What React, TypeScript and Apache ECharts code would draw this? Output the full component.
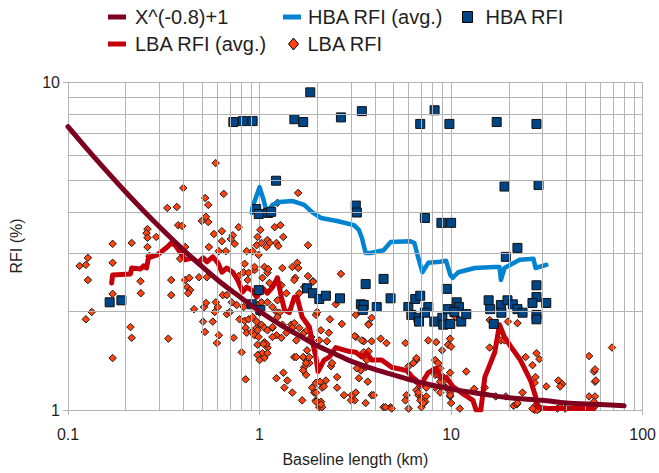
import React, { useEffect, useRef } from "react";
import * as echarts from "echarts";

const NAME_CURVE = "X^(-0.8)+1";
const NAME_HBA_AVG = "HBA RFI (avg.)";
const NAME_HBA = "HBA RFI";
const NAME_LBA_AVG = "LBA RFI (avg.)";
const NAME_LBA = "LBA RFI";

// Minor grid values (axis values)
const minorX = [0.2, 0.3, 0.4, 0.5, 0.6, 0.7, 0.8, 0.9, 2, 3, 4, 5, 6, 7, 8, 9, 20, 30, 40, 50, 60, 70, 80, 90];
const minorY = [2, 3, 4, 5, 6, 7, 8, 9];

// X^(-0.8)+1 curve
const curvePoints: number[][] = [
  [0.1, 7.31], [0.13, 6.11], [0.16, 5.33], [0.2, 4.62], [0.25, 4.03], [0.3, 3.62], [0.4, 3.08],
  [0.5, 2.74], [0.6, 2.5], [0.7, 2.33], [0.8, 2.2], [1, 2.0], [1.3, 1.81], [1.6, 1.69], [2, 1.57],
  [2.5, 1.48], [3, 1.41], [4, 1.33], [5, 1.28], [6, 1.24], [8, 1.19], [10, 1.16], [13, 1.13],
  [16, 1.11], [20, 1.09], [30, 1.07], [40, 1.05], [60, 1.04], [80, 1.03],
];

const hbaAvg: number[][] = [
  [0.91, 3.99], [0.92, 4.16], [1.0, 4.78], [1.05, 4.37], [1.09, 3.99], [1.17, 4.22], [1.27, 4.31],
  [1.48, 4.34], [1.71, 4.22], [1.88, 4.01], [2.09, 3.85], [2.54, 3.77], [3.11, 3.66], [3.3, 3.54],
  [3.42, 3.35], [3.58, 3.01], [3.8, 3.01], [4.44, 3.07], [4.83, 3.25], [6.13, 3.27], [6.43, 3.23],
  [6.75, 2.9], [7.08, 2.63], [7.6, 2.81], [8.77, 2.83], [9.42, 2.85], [9.9, 2.58], [10.2, 2.53],
  [10.9, 2.63], [13.3, 2.71], [16.9, 2.73], [17.9, 2.73], [18.2, 2.49], [19, 2.71], [22.8, 2.87],
  [26.9, 2.89], [27.6, 2.71], [31.4, 2.77],
];

const hbaRfi: number[][] = [
  [0.73, 7.55], [0.82, 7.6], [0.92, 7.6], [1.84, 9.3], [1.52, 7.7], [1.69, 7.55], [2.66, 7.8],
  [3.42, 8.15], [8.2, 8.2], [6.9, 7.45], [9.8, 7.45], [17.3, 7.55], [27.9, 7.45],
  [1.22, 5.0], [19, 4.8], [28.6, 4.85], [3.18, 4.2], [3.22, 4.0], [7.3, 3.85], [8.9, 3.72], [10, 3.72],
  [0.96, 4.1], [0.99, 3.96], [1.11, 3.99], [1.15, 4.02], [19.3, 2.93], [22.2, 3.12],
  [0.165, 2.13], [0.19, 2.16], [0.99, 2.32], [0.91, 2.1], [1.01, 2.02], [1.77, 2.35], [1.9, 2.27],
  [2.05, 2.18], [2.22, 2.23], [2.63, 2.19], [3.58, 2.42], [4.44, 2.51], [4.83, 2.19], [3.38, 2.1],
  [3.5, 2.09], [3.46, 2.02], [4.09, 2.06], [5.98, 2.06], [6.2, 1.95], [6.5, 2.18], [6.9, 2.23],
  [7.6, 2.06], [6.75, 1.91], [6.8, 1.86], [7.3, 1.98], [8.17, 1.86], [9.0, 1.91], [9.5, 2.34],
  [9.6, 2.03], [9.1, 1.82], [9.9, 1.83], [10.7, 2.13], [11, 2.06], [10.4, 1.99], [11.3, 1.86],
  [12, 1.96], [15.7, 2.16], [16, 2.03], [16.7, 1.83], [18.2, 2.09], [18.3, 1.98], [19.7, 2.16],
  [21, 2.1], [22.2, 2.03], [23.6, 1.98], [27.9, 2.4], [27.9, 2.21], [26.6, 2.12], [31.4, 2.12],
  [27.9, 1.95], [27.9, 1.89],
];

const lbaAvg: number[][] = [
  [0.169, 2.44], [0.171, 2.58], [0.212, 2.6], [0.215, 2.71], [0.239, 2.69], [0.248, 2.75], [0.257, 2.71],
  [0.263, 2.91], [0.292, 2.97], [0.33, 3.14], [0.346, 3.23], [0.363, 3.18], [0.394, 2.97], [0.409, 2.87],
  [0.444, 2.91], [0.477, 2.81], [0.507, 2.91], [0.531, 2.83], [0.57, 2.93], [0.606, 2.81], [0.636, 2.63],
  [0.675, 2.71], [0.725, 2.63], [0.769, 2.49], [0.817, 2.29], [0.857, 2.37], [0.91, 2.32], [0.965, 2.21],
  [1.04, 2.35], [1.1, 2.27], [1.17, 2.37], [1.24, 2.53], [1.3, 2.21], [1.35, 2.02], [1.43, 1.98],
  [1.52, 2.21], [1.57, 2.21], [1.67, 1.92], [1.82, 1.79], [1.88, 1.63], [1.97, 1.45], [2.02, 1.31],
  [2.17, 1.42], [2.31, 1.45], [2.5, 1.55], [2.93, 1.51], [3.18, 1.5], [3.42, 1.45], [3.63, 1.49],
  [3.85, 1.42], [4.34, 1.42], [4.89, 1.35], [5.85, 1.32], [6.51, 1.23], [6.91, 1.19], [7.6, 1.3],
  [8.36, 1.34], [8.87, 1.25], [9.42, 1.26], [10.2, 1.18], [11.3, 1.13], [13, 1.07], [13.5, 1.0],
  [14.3, 1.0], [15, 1.26], [15.9, 1.37], [16.9, 1.5], [17.9, 1.82], [19, 1.67], [20.5, 1.56],
  [23, 1.42], [26, 1.23], [27.6, 1.1], [28.2, 1.02], [31.8, 1.01], [39, 1.01], [47.2, 1.01], [55.7, 1.01],
];

const lbaRfi: number[][] = [
  [0.59, 5.66], [0.4, 4.75], [0.65, 4.56], [0.52, 4.43], [0.54, 4.22], [0.33, 4.13], [0.37, 4.16],
  [0.525, 3.88], [0.5, 3.77], [0.54, 3.74], [0.376, 3.66], [0.394, 3.64], [0.26, 3.56], [0.257, 3.46],
  [0.26, 3.35], [0.289, 3.37], [0.578, 3.44], [0.636, 3.51], [0.778, 3.61], [0.725, 3.41], [0.708, 3.32],
  [0.636, 3.27], [0.742, 3.21], [0.171, 3.21], [0.215, 3.23], [0.544, 3.14], [0.409, 3.14], [0.613, 3.05],
  [0.667, 3.05], [0.26, 3.14], [0.127, 2.91], [0.115, 2.75], [0.124, 2.77], [0.171, 2.81], [0.385, 2.89],
  [0.266, 2.95], [0.836, 2.79], [0.857, 3.05], [0.92, 3.05], [0.826, 2.63], [0.877, 2.62], [0.942, 2.67],
  [0.127, 2.49], [0.239, 2.47], [0.346, 2.49], [0.409, 2.49], [0.43, 2.53], [0.483, 2.54], [0.531, 2.54],
  [0.778, 2.56], [0.867, 2.49],
  [0.171, 2.26], [0.24, 2.27], [0.346, 2.24], [0.419, 2.37], [0.434, 2.32], [0.424, 2.27], [0.133, 1.99],
  [0.124, 1.89], [0.455, 2.03], [0.513, 2.06], [0.525, 2.12], [0.591, 2.13], [0.606, 2.06], [0.584, 1.99],
  [0.643, 2.24], [0.675, 2.24], [0.716, 2.13], [0.76, 2.09], [0.826, 2.06], [0.888, 2.09], [0.675, 1.96],
  [0.7, 1.99], [0.787, 1.89], [0.836, 1.87], [0.877, 1.89], [0.92, 1.92], [0.507, 1.86], [0.57, 1.86],
  [0.519, 1.73], [0.846, 1.78], [0.857, 1.72], [0.909, 1.73], [0.965, 1.78], [0.942, 1.69], [0.988, 1.67],
  [0.212, 1.79], [0.215, 1.66], [0.334, 1.65], [0.613, 1.69], [0.599, 1.6], [0.733, 1.66], [0.171, 1.44],
  [0.807, 1.5], [0.988, 1.47], [0.846, 1.24],
  [1.59, 4.59], [1.24, 4.28], [1.2, 3.61], [1.285, 3.66], [1.01, 3.54], [1.33, 3.37], [1.1, 3.3],
  [1.13, 3.23], [1.087, 3.14], [0.976, 3.37], [0.965, 3.18], [1.024, 3.23], [1.225, 3.23], [1.254, 3.16],
  [0.988, 2.97], [1.79, 3.18], [1.06, 2.73], [1.1, 2.62], [1.11, 2.69], [1.316, 2.71], [1.483, 2.73],
  [1.574, 2.81], [1.593, 2.71], [1.036, 2.53], [1.537, 2.53], [1.79, 2.56], [1.9, 2.47], [2.66, 2.6],
  [1.127, 2.44], [0.942, 2.73],
  [1.3, 2.4], [1.38, 2.27], [1.518, 2.49], [1.612, 2.27], [1.71, 2.37], [1.9, 2.46], [2.5, 2.1],
  [0.976, 2.09], [1.024, 2.13], [1.1, 2.13], [1.168, 2.06], [1.225, 1.99], [1.27, 1.98], [1.0, 1.98],
  [0.965, 1.86], [1.024, 1.82], [1.06, 1.78], [1.1, 1.75], [0.976, 1.75], [1.168, 1.78], [1.225, 1.69],
  [1.3, 1.66], [1.38, 1.72], [1.465, 1.82], [1.518, 1.84], [1.612, 1.78], [1.71, 1.72], [1.77, 1.75],
  [1.86, 1.67], [1.97, 1.95], [2.0, 1.99], [2.33, 1.89], [2.69, 1.83], [3.71, 1.83], [3.85, 1.91],
  [2.09, 1.75], [2.3, 1.72], [2.05, 1.63], [3.18, 1.67], [3.5, 1.62], [3.85, 1.62], [4.29, 1.65],
  [4.6, 1.6], [5.78, 1.6], [7.6, 1.63], [8.36, 1.61], [8.98, 1.52], [9.64, 1.58], [2.25, 1.62],
  [1.06, 1.61], [0.976, 1.58], [1.1, 1.55], [1.036, 1.49], [0.976, 1.47], [1.06, 1.44], [1.518, 1.45],
  [1.77, 1.52], [1.71, 1.44], [1.82, 1.39], [1.71, 1.35], [1.75, 1.28], [2.36, 1.36], [2.39, 1.39],
  [2.54, 1.26], [3.5, 1.5], [3.71, 1.51], [3.63, 1.42], [3.38, 1.32], [3.3, 1.25], [3.67, 1.22],
  [6.59, 1.42], [6.35, 1.39], [6.0, 1.36], [8.26, 1.42], [8.56, 1.39], [8.77, 1.34], [8.26, 1.28],
  [9.09, 1.26], [9.88, 1.3], [9.09, 1.22], [9.42, 1.17], [9.88, 1.13], [8.77, 1.13], [8.26, 1.17],
  [6.51, 1.23], [6.91, 1.19], [6.59, 1.15], [6.75, 1.11], [7.0, 1.09], [7.42, 1.1], [7.33, 1.06],
  [7.0, 1.02], [6.0, 1.01], [4.83, 1.02], [4.44, 1.02], [5.85, 1.11], [5.78, 1.07], [1.225, 1.25],
  [1.397, 1.23], [1.332, 1.3], [1.348, 1.17], [1.483, 1.13], [1.67, 1.07], [1.88, 1.17], [1.93, 1.13],
  [2.12, 1.17], [2.17, 1.18], [1.97, 1.07], [2.09, 1.06], [2.05, 1.02], [2.12, 1.02], [2.76, 1.11],
  [3.03, 1.11], [3.14, 1.07], [3.58, 1.05], [3.85, 1.11], [2.54, 1.17], [2.22, 1.23],
  [1.97, 1.21], [2.07, 1.22], [1.97, 1.13], [2.09, 1.04], [1.97, 1.06], [1.75, 1.39], [1.69, 1.45],
  [1.82, 1.45], [1.555, 1.45], [1.69, 1.32], [1.168, 1.67], [1.168, 1.79], [1.087, 1.59], [1.1, 1.49],
  [1.555, 1.63], [1.483, 1.78], [1.316, 1.82], [1.24, 1.92], [1.24, 2.16], [1.0, 1.42], [1.048, 1.59],
  [3.18, 1.95], [3.71, 1.82], [3.14, 1.68], [3.42, 1.63], [9.88, 1.65], [10, 1.56], [10.6, 1.92],
  [15.9, 1.55], [18.2, 1.63], [19.8, 1.86], [22.2, 1.84], [24.5, 1.45], [26.6, 1.37], [27.9, 1.49],
  [28.9, 1.43], [31.4, 1.18], [36.3, 1.23], [38.0, 1.2], [23.6, 1.13], [27.6, 1.26], [52.5, 1.46],
  [55.7, 1.31], [56.4, 1.22], [69.2, 1.55], [52.5, 1.1], [56.4, 1.1], [55.7, 1.06], [55.7, 1.02],
  [35.9, 1.01], [39.4, 1.01], [27.3, 1.0], [27.9, 1.04], [28.9, 1.01], [21.2, 1.03], [17.1, 1.1],
  [3.58, 1.35], [3.22, 1.34], [3.94, 1.11], [4.55, 1.02], [4.89, 1.01], [6.59, 1.44], [8.06, 1.32],
  [8.56, 1.28], [8.77, 1.22], [12, 1.31], [7.42, 1.17], [6.75, 1.13], [6.91, 1.07], [7.17, 1.05],
  [9.88, 1.1], [11.1, 1.01], [3.18, 1.13], [3.0, 1.07],
  [19.0, 1.63], [15.9, 1.88], [27.3, 1.21], [37.1, 1.18], [13.2, 1.16], [19.3, 1.1], [22, 1.04],
  [15, 1.17], [10, 1.05], [9.88, 1.11], [56.4, 1.33], [57, 1.23], [37.1, 1.02], [28.2, 1.0],
  [26.6, 1.01], [22.2, 1.05],
];

const FONT = "Liberation Sans";
const TEXT_COLOR = "#1f1f1f";
const GRID_COLOR = "#b3b3b3";

export default function App() {
  const ref = useRef<HTMLDivElement>(null);

  useEffect(() => {
    if (!ref.current) return;
    const chart = echarts.init(ref.current, undefined, { renderer: "svg" });

    const legendText = { fontSize: 20, color: TEXT_COLOR, fontFamily: FONT };
    const mkLegend = (name: string, left: number, top: number, w: number, h: number, icon: string, style: any, pad: number) => ({
      left,
      top,
      padding: 0,
      itemWidth: w,
      itemHeight: h,
      selectedMode: false,
      textStyle: { ...legendText, padding: [0, 0, 0, pad] },
      data: [{ name, icon, itemStyle: style }],
    });

    const option: any = {
      animation: false,
      backgroundColor: "#ffffff",
      textStyle: { fontFamily: FONT },
      legend: [
        mkLegend(NAME_CURVE, 108, 7, 18, 5, "rect", { color: "#7e0021", borderWidth: 0 }, 4),
        mkLegend(NAME_HBA_AVG, 283, 7, 18, 5, "rect", { color: "#0084d1", borderWidth: 0 }, 2),
        mkLegend(NAME_HBA, 462, 7, 10, 11, "rect", { color: "#004586", borderColor: "#000", borderWidth: 1 }, 8),
        mkLegend(NAME_LBA_AVG, 108, 34, 18, 5, "rect", { color: "#c5000b", borderWidth: 0 }, 4),
        mkLegend(NAME_LBA, 288, 34, 10, 12, "diamond", { color: "#ff420e", borderColor: "#000", borderWidth: 1 }, 4),
      ],
      grid: { left: 66, right: 13, top: 82, bottom: 63, containLabel: false },
      xAxis: {
        type: "log",
        logBase: 10,
        min: 0.1,
        max: 100,
        name: "Baseline length (km)",
        nameLocation: "middle",
        nameGap: 41,
        nameTextStyle: { fontSize: 16, color: TEXT_COLOR, fontFamily: FONT },
        axisLine: { show: true, lineStyle: { color: GRID_COLOR, width: 1 } },
        axisTick: { show: true, length: 5, lineStyle: { color: GRID_COLOR } },
        axisLabel: { fontSize: 16, color: TEXT_COLOR, margin: 16, fontFamily: FONT },
        splitLine: { show: true, lineStyle: { color: GRID_COLOR, width: 1 } },
      },
      yAxis: {
        type: "log",
        logBase: 10,
        min: 1,
        max: 10,
        name: "RFI (%)",
        nameLocation: "middle",
        nameGap: 44,
        nameTextStyle: { fontSize: 16, color: TEXT_COLOR, fontFamily: FONT },
        axisLine: { show: true, lineStyle: { color: GRID_COLOR, width: 1 } },
        axisTick: { show: true, length: 5, lineStyle: { color: GRID_COLOR } },
        axisLabel: { fontSize: 16, color: TEXT_COLOR, margin: 8, fontFamily: FONT },
        splitLine: { show: true, lineStyle: { color: GRID_COLOR, width: 1 } },
      },
      series: [
        {
          name: "grid-minor",
          type: "scatter",
          data: [],
          silent: true,
          z: 0,
          markLine: {
            silent: true,
            symbol: ["none", "none"],
            label: { show: false },
            emphasis: { disabled: true },
            lineStyle: { color: GRID_COLOR, width: 1, type: "solid" },
            data: [
              ...minorX.map((v) => ({ xAxis: v })),
              ...minorY.map((v) => ({ yAxis: v })),
            ],
          },
        },
        {
          name: NAME_LBA,
          type: "scatter",
          data: lbaRfi,
          symbol: "diamond",
          symbolSize: 7.5,
          z: 2,
          itemStyle: { color: "#ff420e", borderColor: "#1a1a1a", borderWidth: 1, opacity: 1 },
        },
        {
          name: NAME_LBA_AVG,
          type: "line",
          data: lbaAvg,
          showSymbol: false,
          symbol: "none",
          z: 3,
          lineStyle: { color: "#c5000b", width: 5, cap: "round", join: "round" },
          itemStyle: { color: "#c5000b" },
        },
        {
          name: NAME_HBA_AVG,
          type: "line",
          data: hbaAvg,
          showSymbol: false,
          symbol: "none",
          z: 3,
          lineStyle: { color: "#0084d1", width: 4.5, cap: "round", join: "round" },
          itemStyle: { color: "#0084d1" },
        },
        {
          name: NAME_HBA,
          type: "scatter",
          data: hbaRfi,
          symbol: "rect",
          symbolSize: 9,
          z: 4,
          itemStyle: { color: "#004586", borderColor: "#111", borderWidth: 1, opacity: 1 },
        },
        {
          name: NAME_CURVE,
          type: "line",
          data: curvePoints,
          showSymbol: false,
          symbol: "none",
          smooth: 0.3,
          z: 5,
          lineStyle: { color: "#7e0021", width: 5, cap: "round", join: "round" },
          itemStyle: { color: "#7e0021" },
        },
      ],
    };

    chart.setOption(option);
    return () => chart.dispose();
  }, []);

  return (
    <div
      ref={ref}
      style={{ position: "absolute", left: 0, top: 0, width: 659, height: 473, background: "#fff" }}
    />
  );
}
